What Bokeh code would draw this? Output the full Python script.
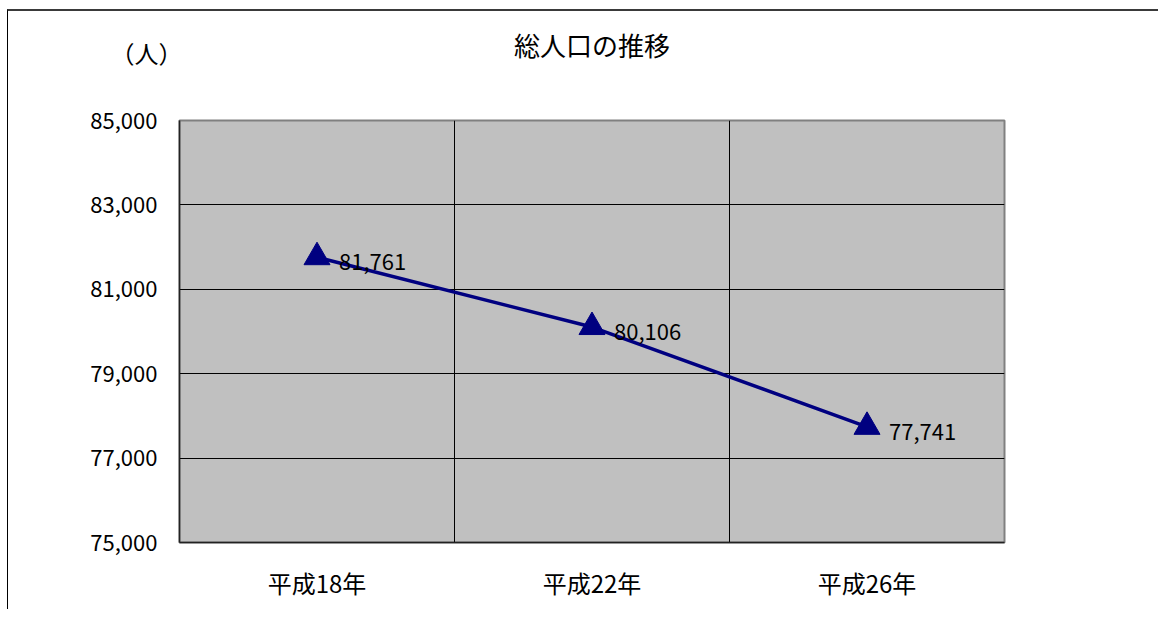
from bokeh.plotting import figure
from bokeh.models import (ColumnDataSource, FixedTicker, NumeralTickFormatter, Range1d, Label)
from bokeh.core.properties import value
from bokeh.embed import file_html
from bokeh.resources import INLINE

# data
categories = ["平成18年", "平成22年", "平成26年"]
population = [81761, 80106, 77741]
labels = ["81,761", "80,106", "77,741"]
y_ticks = [75000, 77000, 79000, 81000, 83000, 85000]
title_text = "総人口の推移"
unit_text = "（人）"

JP = "Noto Sans CJK JP"
xs = [i + 0.5 for i in range(len(categories))]
src = ColumnDataSource(dict(x=xs, y=population, label=labels))

p = figure(width=1151, height=600, output_backend="svg", toolbar_location=None,
           x_range=Range1d(0, len(categories)), y_range=Range1d(75000, 85000),
           min_border_left=171, min_border_right=155, min_border_top=109, min_border_bottom=69,
           styles={"border-left": "1px solid #000000", "border-top": "2px solid #3a3a3a"},
           margin=(9, 0, 0, 7))

p.background_fill_color = "#C0C0C0"
p.border_fill_color = "white"
p.outline_line_color = "#808080"
p.outline_line_width = 2

p.xgrid.ticker = FixedTicker(ticks=list(range(1, len(categories))))
p.xgrid.grid_line_color = "black"
p.xgrid.grid_line_width = 1
p.ygrid.ticker = FixedTicker(ticks=y_ticks)
p.ygrid.grid_line_color = "black"
p.ygrid.grid_line_width = 1

p.yaxis.ticker = FixedTicker(ticks=y_ticks)
p.yaxis.formatter = NumeralTickFormatter(format="0,0")
p.xaxis.ticker = FixedTicker(ticks=xs)
p.xaxis.major_label_overrides = {x: c for x, c in zip(xs, categories)}
for ax in (p.xaxis, p.yaxis):
    ax.major_tick_in = 0
    ax.major_tick_out = 0
    ax.minor_tick_in = 0
    ax.minor_tick_out = 0
    ax.axis_line_color = "#222222"
    ax.axis_line_width = 1.5
    ax.major_label_text_font = JP
    ax.major_label_text_color = "black"
p.yaxis.major_label_text_font_size = "22px"
p.xaxis.major_label_text_font_size = "24px"
p.yaxis.major_label_standoff = 22
p.xaxis.major_label_standoff = 22

p.line("x", "y", source=src, line_color="#000080", line_width=3.5)
p.scatter("x", "y", source=src, marker="triangle", size=26, fill_color="#000080", line_color="#000080")
p.text("x", "y", text="label", source=src, x_offset=22, y_offset=5, text_baseline="middle",
       text_font=value(JP), text_font_size="22px", text_color="black")

p.add_layout(Label(x=1.5, y=86800, text=title_text,
                   text_align="center", text_baseline="middle", text_font=JP,
                   text_font_size="26px", text_color="black"), "above")
p.add_layout(Label(x=-0.12, y=86600, text=unit_text,
                   text_align="center", text_baseline="middle", text_font=JP,
                   text_font_size="24px", text_color="black"), "above")

open("out.html", "w").write(file_html(p, INLINE))
